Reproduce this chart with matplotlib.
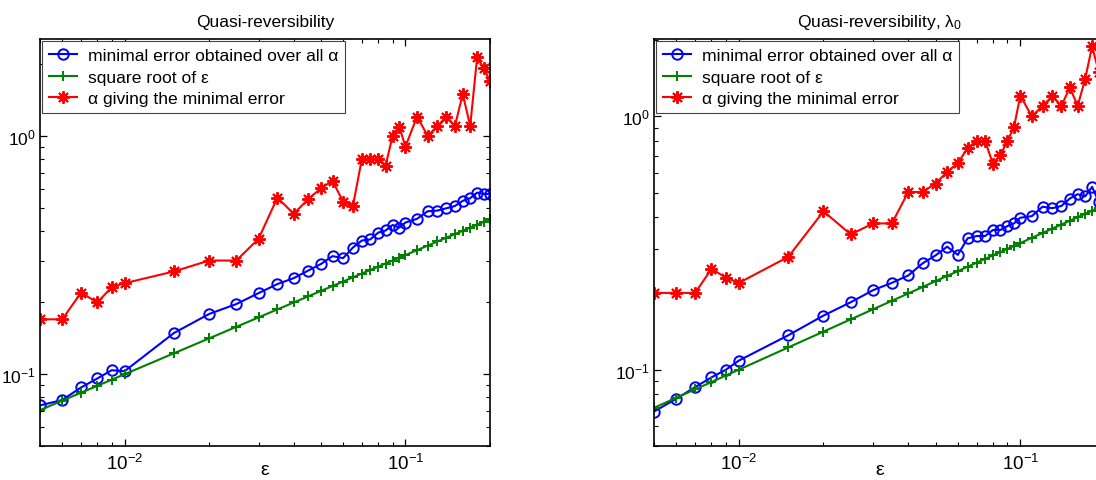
# Quasi-reversibility: error vs epsilon, two log-log panels
import matplotlib
matplotlib.use("Agg")
import matplotlib.pyplot as plt

plt.rcParams['font.family'] = ['Liberation Sans', 'DejaVu Sans']
plt.rcParams['mathtext.fontset'] = 'custom'
plt.rcParams['mathtext.rm'] = 'Liberation Sans'
plt.rcParams['mathtext.it'] = 'Liberation Sans:italic'
plt.rcParams['mathtext.default'] = 'regular'
plt.rcParams['axes.unicode_minus'] = False

# noise levels epsilon
eps = [0.005, 0.006, 0.007, 0.008, 0.009, 0.01,
       0.015, 0.02, 0.025, 0.03, 0.035, 0.04, 0.045, 0.05, 0.055, 0.06,
       0.065, 0.07, 0.075, 0.08, 0.085, 0.09, 0.095, 0.1,
       0.11, 0.12, 0.13, 0.14, 0.15, 0.16, 0.17, 0.18, 0.19, 0.2]

# square root of epsilon (same for both panels)
sqrt_eps = [0.0707, 0.0775, 0.0837, 0.0894, 0.0949, 0.1,
            0.1225, 0.1414, 0.1581, 0.1732, 0.1871, 0.2, 0.2121, 0.2236, 0.2345, 0.2449,
            0.2550, 0.2646, 0.2739, 0.2828, 0.2915, 0.3, 0.3082, 0.3162,
            0.3317, 0.3464, 0.3606, 0.3742, 0.3873, 0.4, 0.4123, 0.4243, 0.4359, 0.4472]

# left panel
min_err_left = [0.074, 0.078, 0.088, 0.096, 0.104, 0.103,
                0.149, 0.179, 0.197, 0.219, 0.239, 0.253, 0.272, 0.290, 0.313, 0.307,
                0.340, 0.364, 0.368, 0.393, 0.401, 0.423, 0.412, 0.433,
                0.449, 0.483, 0.486, 0.497, 0.508, 0.534, 0.548, 0.578, 0.571, 0.571]
alpha_left = [0.170, 0.170, 0.220, 0.200, 0.232, 0.241,
              0.270, 0.300, 0.300, 0.370, 0.551, 0.471, 0.542, 0.603, 0.647, 0.530,
              0.508, 0.803, 0.803, 0.803, 0.751, 1.0, 1.094, 0.902,
              1.205, 1.0, 1.10, 1.205, 1.10, 1.50, 1.10, 2.14, 1.92, 1.70]

# right panel (lambda_0)
min_err_right = [0.0684, 0.0768, 0.0854, 0.0933, 0.100, 0.1086,
                 0.1368, 0.1636, 0.1847, 0.206, 0.2203, 0.2355, 0.263, 0.2826, 0.306, 0.284,
                 0.330, 0.337, 0.337, 0.356, 0.356, 0.369, 0.378, 0.398,
                 0.404, 0.440, 0.434, 0.443, 0.474, 0.493, 0.483, 0.527, 0.46, 0.50]
alpha_right = [0.201, 0.201, 0.201, 0.250, 0.231, 0.220,
               0.279, 0.422, 0.342, 0.378, 0.378, 0.503, 0.503, 0.543, 0.604, 0.654,
               0.749, 0.801, 0.801, 0.648, 0.703, 0.801, 0.905, 1.207,
               1.0, 1.10, 1.20, 1.10, 1.30, 1.10, 1.405, 1.89, 1.5, 1.6]

labels = ['minimal error obtained over all \u03b1',
          'square root of \u03b5',
          '\u03b1 giving the minimal error']

fig = plt.figure(figsize=(10.96, 4.81), dpi=100)
ax1 = fig.add_axes([40 / 1096, 34 / 481, 450 / 1096, 407 / 481])
ax2 = fig.add_axes([654 / 1096, 34 / 481, 451 / 1096, 407 / 481])

panels = [(ax1, min_err_left, alpha_left, 'Quasi-reversibility', 2.55),
          (ax2, min_err_right, alpha_right, r'Quasi-reversibility, $\mathrm{\lambda}_0$', 2.02)]

for ax, err, alp, title, ytop in panels:
    ax.loglog(eps, err, color='blue', marker='o', mfc='none', ms=7.5, mew=1.4, lw=1.5,
              label=labels[0])
    ax.loglog(eps, sqrt_eps, color=(0, 0.5, 0), marker='+', ms=7.5, mew=1.4, lw=1.5,
              label=labels[1])
    ax.loglog(eps, alp, color='red', marker=(8, 2, 0), ms=9, mew=1.4, lw=1.5,
              label=labels[2])
    ax.set_xlim(0.005, 0.2)
    ax.set_ylim(0.05, ytop)
    ax.set_title(title, fontsize=12.5, pad=9)
    ax.set_xlabel('\u03b5', fontsize=14, labelpad=-9)
    ax.tick_params(which='both', direction='in', top=True, right=True)
    ax.tick_params(axis='x', labelsize=13.5)
    ax.tick_params(axis='y', labelsize=12.5)
    ax.tick_params(which='major', length=5, width=0.9)
    ax.tick_params(axis='x', which='major', pad=5)
    ax.tick_params(axis='y', which='major', pad=3)
    ax.tick_params(which='minor', length=3, width=0.8)
    for s in ax.spines.values():
        s.set_linewidth(1.2)
    leg = ax.legend(loc='upper left', fontsize=12.6, frameon=True, fancybox=False,
                    edgecolor='#444444', framealpha=1, borderaxespad=0.1,
                    handlelength=1.6, handletextpad=0.6, labelspacing=0.35,
                    borderpad=0.42)
    leg.get_frame().set_linewidth(0.8)

plt.savefig('out.png', dpi=100)
print('Saved out.png')
